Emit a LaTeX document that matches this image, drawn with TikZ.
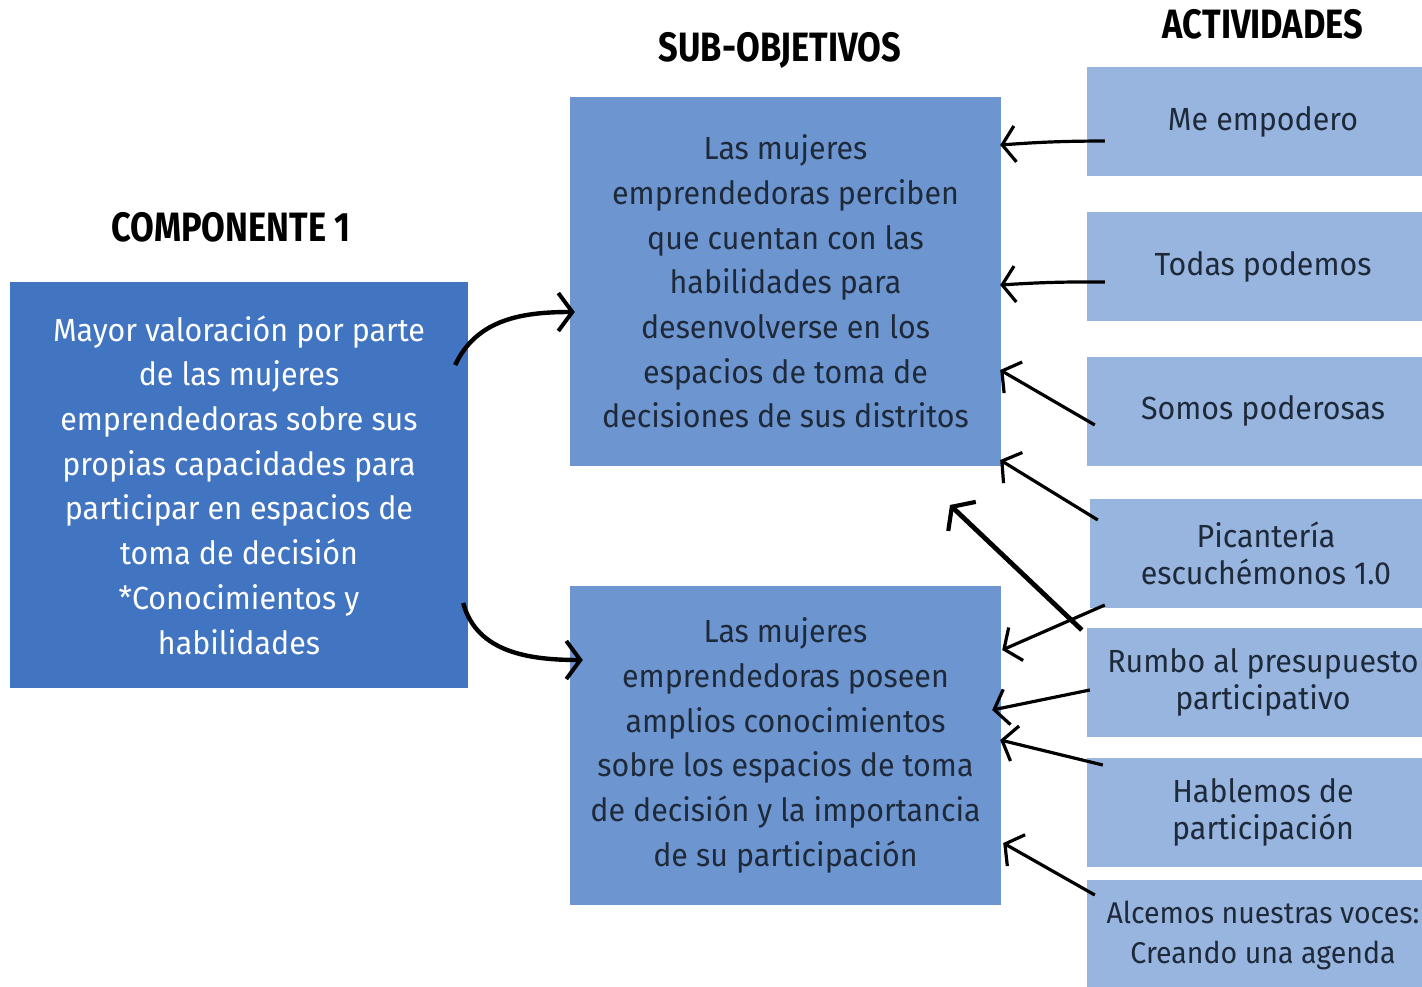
\documentclass[tikz,border=0pt]{standalone}
\usepackage{fontspec}
\setmainfont{Fira Sans}[FakeStretch=0.95]
\newfontfamily\headfont{Fira Sans}[FakeStretch=0.84]
\usetikzlibrary{arrows.meta,calc}
\definecolor{compblue}{HTML}{4174C1}
\definecolor{subblue}{HTML}{6D95D0}
\definecolor{actblue}{HTML}{98B5DF}
\definecolor{darktext}{HTML}{1E2A3A}
\tikzset{
  compbox/.style={fill=compblue, text=white, align=center, inner sep=0pt,
    minimum width=458pt, minimum height=406pt, font=\fontsize{32}{44.7}\selectfont},
  subbox/.style={fill=subblue, text=darktext, align=center, inner sep=0pt,
    minimum width=431pt, font=\fontsize{32}{44.7}\selectfont},
  actbox/.style={fill=actblue, text=darktext, align=center, inner sep=0pt,
    minimum width=352pt, minimum height=109pt, font=\fontsize{32}{37}\selectfont},
  header/.style={text=black, font=\headfont\bfseries\fontsize{41}{44}\selectfont},
  arr/.style={-{Straight Barb[length=13pt,width=36pt,line width=3.2pt]}, line width=3.2pt, black},
  curvarr/.style={-{Straight Barb[length=14pt,width=38pt,line width=4pt]}, line width=4.4pt, black},
  bigarr/.style={-{Straight Barb[length=14pt,width=40pt,line width=4.2pt]}, line width=4.8pt, black},
}
\begin{document}
\begin{tikzpicture}[x=1pt,y=-1pt]
\useasboundingbox (0,0) rectangle (1422,987);
\fill[white] (0,0) rectangle (1422,987);

% headers
\node[header] (hcomp) at (231,227) {COMPONENTE 1};
\node[header] (hsub) at (780,50) {SUB-OBJETIVOS};
\node[header] (hact) at (1263,24) {ACTIVIDADES};

% main boxes
\node[compbox] (comp) at (239,485) {Mayor valoración por parte\\de las mujeres\\emprendedoras sobre sus\\propias capacidades para\\participar en espacios de\\toma de decisión\\*Conocimientos y\\habilidades};

\node[subbox, minimum height=369pt] (s1) at (785.5,281.5) {\raisebox{-4pt}{\parbox{431pt}{\centering Las mujeres\\emprendedoras perciben\\que cuentan con las\\habilidades para\\desenvolverse en los\\espacios de toma de\\decisiones de sus distritos}}};

\node[subbox, minimum height=319pt] (s2) at (785.5,745.5) {Las mujeres\\emprendedoras poseen\\amplios conocimientos\\sobre los espacios de toma\\de decisión y la importancia\\de su participación};

% activity boxes
\node[actbox] (a1) at (1263,121.5) {Me empodero};
\node[actbox] (a2) at (1263,266.5) {Todas podemos};
\node[actbox] (a3) at (1263,411) {Somos poderosas};
\node[actbox] (a4) at (1266,553.5) {Picantería\\escuchémonos 1.0};
\node[actbox] (a5) at (1263,682) {Rumbo al presupuesto\\participativo};
\node[actbox] (a6) at (1263,812.5) {Hablemos de\\participación};
\node[actbox, minimum height=110pt, font=\fontsize{30}{40}\selectfont] (a7) at (1263,935) {Alcemos nuestras voces:\\Creando una agenda};

% curved arrows from component
\draw[curvarr] ([xshift=-13pt,yshift=120pt]comp.east) to[out=65,in=180] ([xshift=5pt,yshift=-30.5pt]s1.west);
\draw[curvarr] ([xshift=-5pt,yshift=-118pt]comp.east) to[out=-75,in=180] ([xshift=13pt,yshift=85.5pt]s2.west);

% activity arrows
\draw[arr] ([xshift=18pt,yshift=-19.5pt]a1.west) to[bend right=2] ([xshift=-1pt,yshift=136.5pt]s1.east);
\draw[arr] ([xshift=18pt,yshift=-15.5pt]a2.west) to[bend right=2] ([xshift=-1pt,yshift=-3.5pt]s1.east);
\draw[arr] ([xshift=8pt,yshift=-14pt]a3.west) -- ([xshift=-1pt,yshift=-88.5pt]s1.east);
\draw[arr] ([xshift=8pt,yshift=33.5pt]a4.west) -- ([xshift=-1pt,yshift=-178.5pt]s1.east);
\draw[arr] ([xshift=18pt,yshift=77pt]a5.west) -- ([xshift=1pt,yshift=95.5pt]s2.east);
\draw[arr] ([xshift=3pt,yshift=-8pt]a5.west) -- ([xshift=-9pt,yshift=35.5pt]s2.east);
\draw[arr] ([xshift=16pt,yshift=47.5pt]a6.west) -- ([xshift=-1pt,yshift=5.5pt]s2.east);
\draw[arr] ([xshift=8pt,yshift=40pt]a7.west) -- ([xshift=2pt,yshift=-97.5pt]s2.east);

% thick arrow with free end
\coordinate (free) at (950,505);
\draw[bigarr] ([xshift=-5pt,yshift=52pt]a5.west) -- (free);
\end{tikzpicture}
\end{document}
